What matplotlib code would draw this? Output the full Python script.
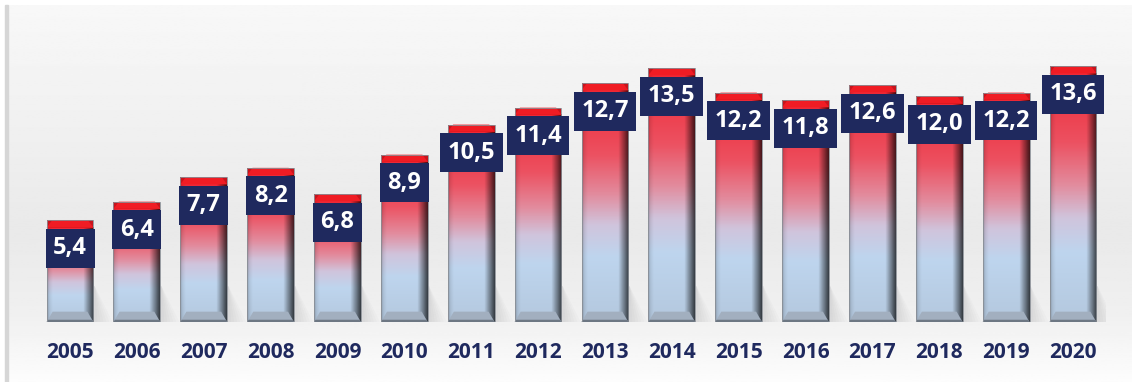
import numpy as np
import matplotlib.pyplot as plt
from matplotlib.colors import LinearSegmentedColormap
from matplotlib.patches import Polygon, Rectangle

years = ['2005', '2006', '2007', '2008', '2009', '2010', '2011', '2012',
         '2013', '2014', '2015', '2016', '2017', '2018', '2019', '2020']
values = [5.4, 6.4, 7.7, 8.2, 6.8, 8.9, 10.5, 11.4,
          12.7, 13.5, 12.2, 11.8, 12.6, 12.0, 12.2, 13.6]
labels = ['5,4', '6,4', '7,7', '8,2', '6,8', '8,9', '10,5', '11,4',
          '12,7', '13,5', '12,2', '11,8', '12,6', '12,0', '12,2', '13,6']

navy = '#1f295e'
bar_w = 0.70
cap_h = 0.38     # red top face
base_h = 0.55    # grey bottom bevel
px_to_y = 1 / 18.8

# front-face colour ramp, bottom -> top
face_cmap = LinearSegmentedColormap.from_list('face', [
    (0.00, '#b4c8de'),
    (0.28, '#bed5ee'),
    (0.42, '#d0c4dc'),
    (0.55, '#e28c9e'),
    (0.72, '#ec5262'),
    (1.00, '#ef2835'),
])

fig = plt.figure(figsize=(11.32, 3.82), dpi=100)
fig.patch.set_facecolor('white')

# backdrop panel
bg = fig.add_axes([0, 0, 1, 1])
bg.set_xlim(0, 1132)
bg.set_ylim(382, 0)
bg.axis('off')
rows = np.linspace(0, 1, 200)
shade = np.interp(rows, [0, 0.6, 0.82, 1.0], [0.972, 0.915, 0.94, 0.99])
bg.imshow(np.repeat(shade[:, None], 2, axis=1), cmap='gray', vmin=0, vmax=1,
          extent=[8, 1132, 382, 5], aspect='auto', zorder=0)
bg.add_patch(Rectangle((5, 5), 3, 377, color='#d6d6d6', zorder=1))

ax = fig.add_axes([36.6 / 1132, 60 / 382, 1069.8 / 1132, 302 / 382])
ax.set_xlim(-0.5, len(values) - 0.5)
ax.set_ylim(0, 302 * px_to_y)
ax.axis('off')

ny, nx = 200, 60
xs = np.linspace(0, 1, nx)
hshade = np.interp(xs, [0, 0.04, 0.12, 0.78, 0.9, 1.0], [0.75, 0.92, 1.0, 1.0, 0.62, 0.3])

for i, v in enumerate(values):
    x0, x1 = i - bar_w / 2, i + bar_w / 2
    top = v - cap_h

    # soft shadow cast to the right
    for k in range(6):
        w = 0.06 + 0.045 * k
        ax.add_patch(Polygon([(x1, 0), (x1 + w, 0), (x1 + 0.02, 1.9), (x1, 1.9)],
                             closed=True, color='#808088', alpha=0.035, lw=0, zorder=1))

    # front face
    ys = np.linspace(1, 0, ny)
    col = face_cmap(ys)[:, :3]
    img = col[:, None, :] * hshade[None, :, None]
    ax.imshow(img, extent=[x0, x1, 0, top], aspect='auto', zorder=2,
              interpolation='bilinear')

    # bottom bevel
    d = 0.09
    ax.add_patch(Polygon([(x0, 0), (x1, 0), (x1 - d, base_h), (x0 + d, base_h)],
                         closed=True, fc='#a2afbf', ec='none', zorder=3))
    ax.add_patch(Polygon([(x0, 0), (x1, 0), (x1 - 0.02, 0.12), (x0 + 0.02, 0.12)],
                         closed=True, fc='#6d7783', ec='none', zorder=3))

    # top cap
    ax.add_patch(Rectangle((x0, top), bar_w, cap_h, fc='#c8141c', ec='none', zorder=3))
    ax.add_patch(Polygon([(x0 + 0.08, v), (x1 - 0.08, v), (x1, top), (x0, top)],
                         closed=True, fc='#f01c24', ec='none', zorder=3))

    ax.add_patch(Rectangle((x0, 0), bar_w, v, fill=False, ec='#8a8f96', lw=0.6, zorder=4))

    # value box
    ax.text(i, v - 28 * px_to_y, labels[i], ha='center', va='center',
            fontsize=17, fontweight='bold', color='white', family='Open Sans', zorder=6,
            bbox=dict(boxstyle='square,pad=0.32', fc=navy, ec='none'))

    # year label
    ax.text(i, -30 * px_to_y, years[i], ha='center', va='center', clip_on=False,
            fontsize=15, fontweight='bold', color=navy, family='Open Sans')

fig.savefig('out.png', dpi=100)
